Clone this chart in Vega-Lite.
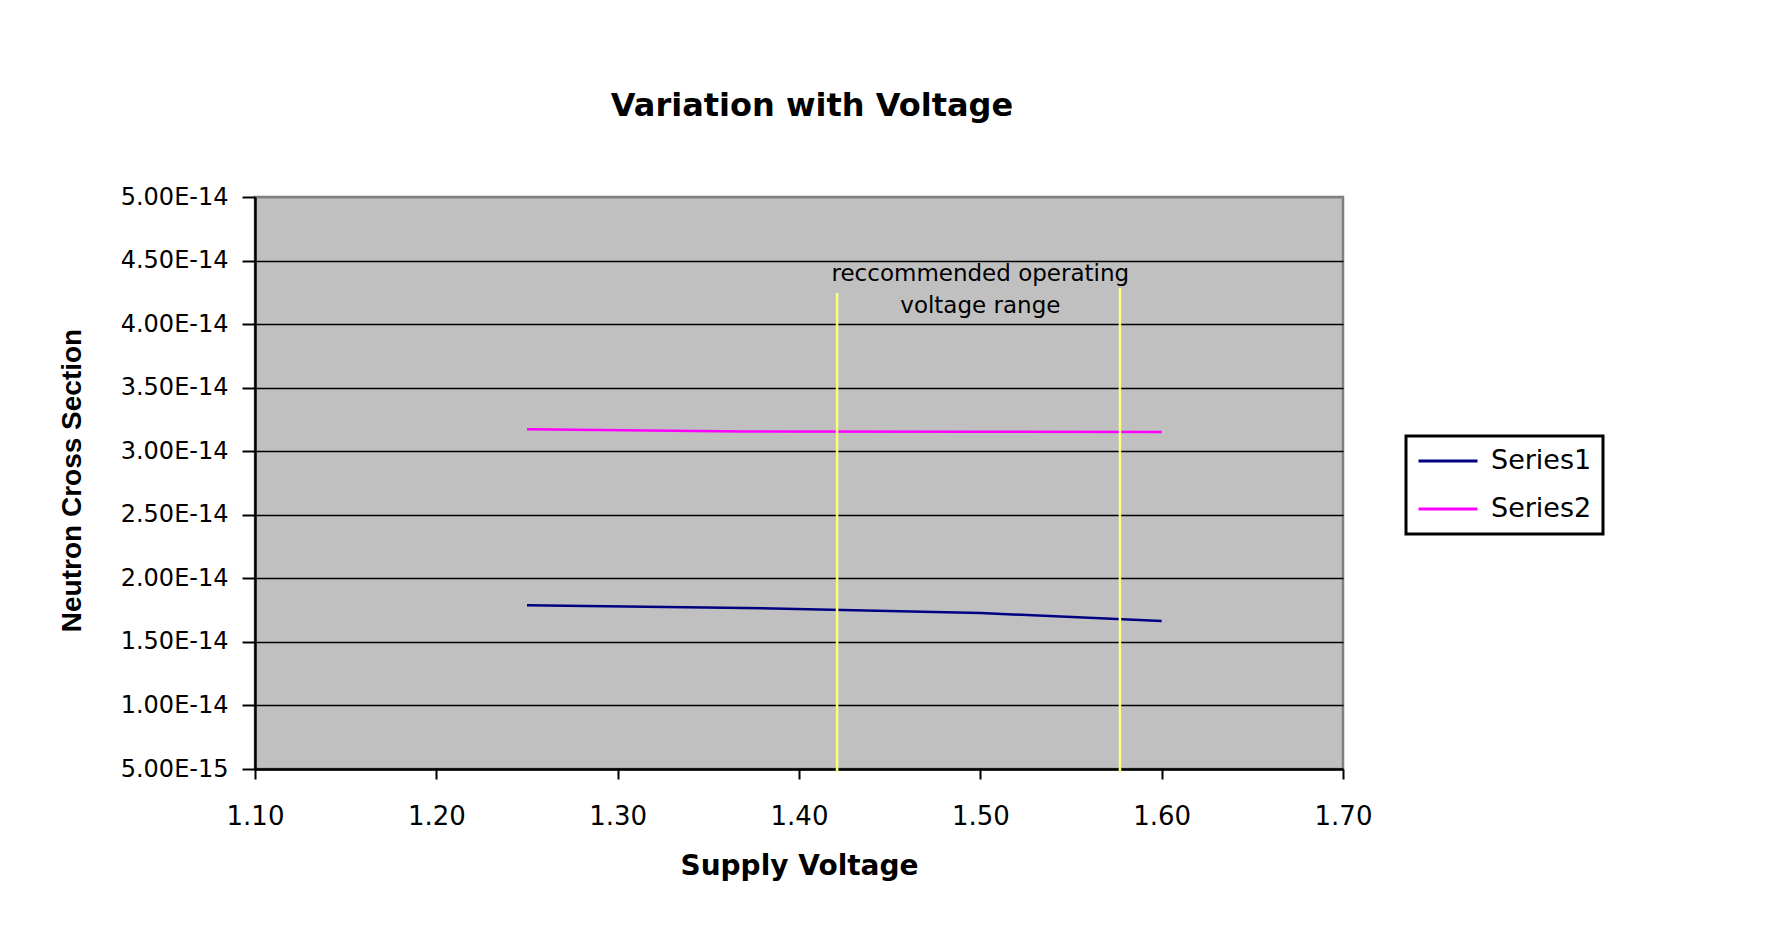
{
  "$schema": "https://vega.github.io/schema/vega-lite/v6.json",
  "autosize": {"type": "none"},
  "padding": {"left": 255, "top": 197, "right": 440, "bottom": 169},
  "width": 1088,
  "height": 572,
  "background": "white",
  "title": {
    "text": "Variation with Voltage",
    "font": "DejaVu Sans",
    "fontSize": 32,
    "fontWeight": "bold",
    "color": "black",
    "anchor": "middle",
    "baseline": "alphabetic",
    "offset": 37,
    "dx": 13
  },
  "datasets": {
    "series": [
      {"series": "Series1", "voltage": 1.25, "value": 1.788e-14},
      {"series": "Series1", "voltage": 1.37, "value": 1.767e-14},
      {"series": "Series1", "voltage": 1.5, "value": 1.727e-14},
      {"series": "Series1", "voltage": 1.6, "value": 1.664e-14},
      {"series": "Series2", "voltage": 1.25, "value": 3.173e-14},
      {"series": "Series2", "voltage": 1.37, "value": 3.155e-14},
      {"series": "Series2", "voltage": 1.5, "value": 3.154e-14},
      {"series": "Series2", "voltage": 1.6, "value": 3.152e-14}
    ],
    "ranges": [
      {"voltage": 1.421, "top": 4.245e-14, "bottom": 4.72e-15},
      {"voltage": 1.577, "top": 4.284e-14, "bottom": 4.72e-15}
    ],
    "note": [
      {"voltage": 1.5, "value": 4.392e-14, "label": "reccommended operating\nvoltage range"}
    ]
  },
  "layer": [
    {
      "data": {"name": "series"},
      "mark": {"type": "line", "strokeWidth": 2.5},
      "encoding": {
        "x": {
          "field": "voltage",
          "type": "quantitative",
          "title": "Supply Voltage",
          "scale": {"domain": [1.1, 1.7], "nice": false, "zero": false},
          "axis": {"values": [1.1, 1.2, 1.3, 1.4, 1.5, 1.6, 1.7], "format": ".2f"}
        },
        "y": {
          "field": "value",
          "type": "quantitative",
          "title": "Neutron Cross Section",
          "scale": {"domain": [5e-15, 5e-14], "nice": false, "zero": false},
          "axis": {
            "values": [5e-15, 1e-14, 1.5e-14, 2e-14, 2.5e-14, 3e-14, 3.5e-14, 4e-14, 4.5e-14, 5e-14],
            "gridColor": {"condition": {"test": "datum.value > 4.9e-14", "value": "#808080"}, "value": "black"}
          }
        },
        "color": {
          "field": "series",
          "type": "nominal",
          "scale": {"domain": ["Series1", "Series2"], "range": ["#000080", "#FF00FF"]},
          "legend": {
            "orient": "none",
            "legendX": 1151,
            "legendY": 239,
            "title": null,
            "symbolType": "stroke",
            "symbolSize": 3481,
            "symbolStrokeWidth": 3,
            "clipHeight": 28,
            "labelFont": "DejaVu Sans",
            "labelFontSize": 27,
            "labelColor": "black",
            "labelOffset": 12,
            "padding": 11,
            "rowPadding": 20,
            "strokeColor": "black",
            "fillColor": "white"
          }
        }
      }
    },
    {
      "data": {"name": "ranges"},
      "mark": {"type": "rule", "color": "#FFFF80", "strokeWidth": 2.5},
      "encoding": {
        "x": {"field": "voltage", "type": "quantitative", "title": "Supply Voltage"},
        "y": {"field": "top", "type": "quantitative", "title": "Neutron Cross Section"},
        "y2": {"field": "bottom"}
      }
    },
    {
      "data": {"name": "note"},
      "mark": {
        "type": "text",
        "font": "DejaVu Sans",
        "fontSize": 23,
        "lineBreak": "\n",
        "lineHeight": 32,
        "baseline": "middle",
        "align": "center",
        "color": "black"
      },
      "encoding": {
        "x": {"field": "voltage", "type": "quantitative", "title": "Supply Voltage"},
        "y": {"field": "value", "type": "quantitative", "title": "Neutron Cross Section"},
        "text": {"field": "label"}
      }
    }
  ],
  "config": {
    "view": {"fill": "#C0C0C0", "stroke": "#808080", "strokeWidth": 2.5},
    "legend": {"strokeWidth": 3},
    "axis": {
      "domainColor": "black",
      "tickColor": "black",
      "labelColor": "black",
      "titleColor": "black",
      "labelOverlap": false,
      "labelFlush": false
    },
    "axisX": {
      "grid": false,
      "domainWidth": 2.5,
      "tickWidth": 2,
      "tickSize": 10,
      "labelFont": "DejaVu Sans",
      "labelFontSize": 26,
      "labelPadding": 24,
      "titleFont": "DejaVu Sans",
      "titleFontSize": 28,
      "titleFontWeight": "bold",
      "titleY": 105,
      "titleBaseline": "alphabetic"
    },
    "axisY": {
      "labelExpr": "replace(format(datum.value, '.2e'), 'e', 'E')",
      "grid": true,
      "gridWidth": 1.5,
      "domainWidth": 2.5,
      "tickWidth": 2,
      "tickSize": 13,
      "labelFont": "DejaVu Sans",
      "labelFontSize": 24,
      "labelPadding": 14,
      "titleFont": "Liberation Sans",
      "titleFontSize": 28,
      "titleFontWeight": "bold",
      "titleX": -174.7,
      "titleY": 283,
      "titleBaseline": "alphabetic"
    }
  }
}
